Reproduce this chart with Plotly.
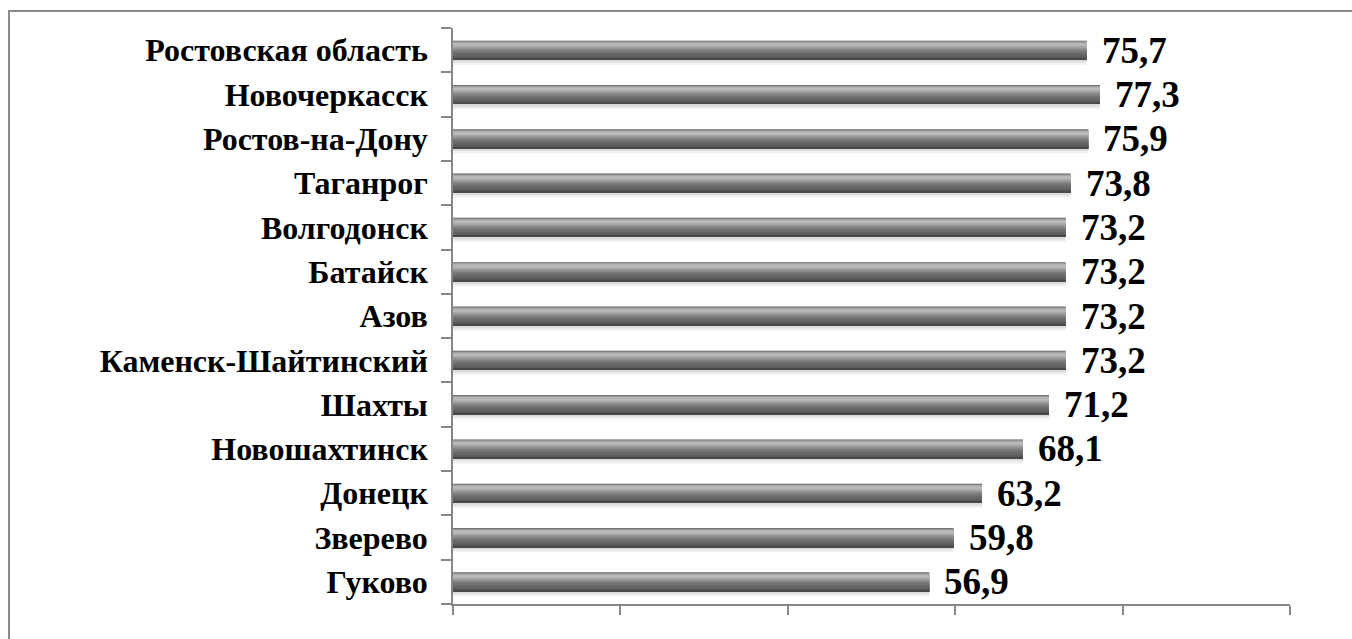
import plotly.graph_objects as go

# Data (top to bottom as shown in the chart)
categories = ["Ростовская область", "Новочеркасск", "Ростов-на-Дону", "Таганрог",
              "Волгодонск", "Батайск", "Азов", "Каменск-Шайтинский", "Шахты",
              "Новошахтинск", "Донецк", "Зверево", "Гуково"]
values = [75.7, 77.3, 75.9, 73.8, 73.2, 73.2, 73.2, 73.2, 71.2, 68.1, 63.2, 59.8, 56.9]
value_labels = ["75,7", "77,3", "75,9", "73,8", "73,2", "73,2", "73,2", "73,2",
                "71,2", "68,1", "63,2", "59,8", "56,9"]
x_ticks = [0, 20, 40, 60, 80, 100]

cats = categories[::-1]
vals = values[::-1]
labs = value_labels[::-1]

FONT = "Liberation Serif"
THICK = 0.43  # bar thickness in category units
# stripe starts from top (0) of the bar; each band runs down to the bottom edge
stripes = [
    (0.00, "#727272"),
    (0.05, "#9a9a9a"),
    (0.10, "#b0b0b0"),
    (0.16, "#bcbcbc"),
    (0.23, "#b6b6b6"),
    (0.30, "#a6a6a6"),
    (0.37, "#969696"),
    (0.44, "#888888"),
    (0.51, "#7c7c7c"),
    (0.58, "#727272"),
    (0.66, "#6a6a6a"),
    (0.74, "#646464"),
    (0.82, "#5c5c5c"),
    (0.90, "#525252"),
    (0.95, "#484848"),
]
shadows = [
    (0.00, 1.26, "#f0f0f0"),
    (0.00, 1.14, "#dcdcdc"),
]

fig = go.Figure()
top = THICK / 2
for s0, s1, col in shadows:
    fig.add_trace(go.Bar(
        y=cats, x=vals, orientation="h",
        width=(s1 - s0) * THICK, offset=top - s1 * THICK,
        marker=dict(color=col, line=dict(width=0)),
        hoverinfo="skip", showlegend=False,
    ))
for s0, col in stripes:
    fig.add_trace(go.Bar(
        y=cats, x=vals, orientation="h",
        width=(1.0 - s0) * THICK, offset=top - THICK,
        marker=dict(color=col, line=dict(width=0)),
        hoverinfo="skip", showlegend=False,
    ))

for c, v, t in zip(cats, vals, labs):
    fig.add_annotation(x=v, y=c, text=t, showarrow=False, xanchor="left",
                       yanchor="middle", xshift=13, yshift=0,
                       font=dict(family=FONT, size=37, color="black", weight="bold"))

# outer border (top and left visible)
fig.add_shape(type="rect", xref="paper", yref="paper",
              x0=(9 - 453) / 837, x1=1.2, y0=-0.2, y1=(604 - 11) / 576,
              line=dict(color="#8a8a8a", width=2), fillcolor="rgba(0,0,0,0)")

fig.update_layout(
    width=1352, height=639,
    margin=dict(l=453, r=62, t=28, b=35),
    barmode="overlay",
    paper_bgcolor="white", plot_bgcolor="white",
    xaxis=dict(range=[0, 100], tickvals=x_ticks, showticklabels=False,
               ticks="outside", ticklen=9, tickwidth=1.5, tickcolor="#868686",
               showline=True, linecolor="#868686", linewidth=1.5,
               showgrid=False, zeroline=False, fixedrange=True),
    yaxis=dict(type="category", categoryorder="array", categoryarray=cats,
               range=[-0.5, len(cats) - 0.5],
               ticks="outside", tickson="boundaries", ticklen=10, tickwidth=1.5,
               tickcolor="#868686", showline=True, linecolor="#868686", linewidth=1.5,
               ticklabelstandoff=17,
               tickfont=dict(family=FONT, size=32, color="black", weight="bold"),
               showgrid=False, zeroline=False, fixedrange=True),
)

fig.write_html("out.html", config={"displayModeBar": False},
               post_script="document.body.style.margin='0';")
